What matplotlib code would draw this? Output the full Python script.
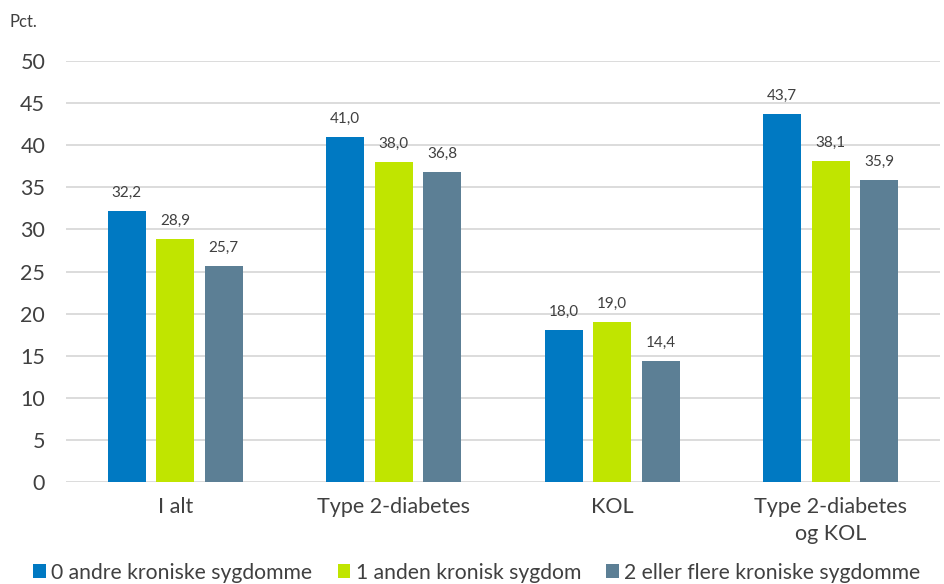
import matplotlib.pyplot as plt
import numpy as np

categories = ['I alt', 'Type 2-diabetes', 'KOL', 'Type 2-diabetes\nog KOL']
series_names = ['0 andre kroniske sygdomme', '1 anden kronisk sygdom',
                '2 eller flere kroniske sygdomme']
zero_other = [32.2, 41.0, 18.0, 43.7]
one_other = [28.9, 38.0, 19.0, 38.1]
two_plus = [25.7, 36.8, 14.4, 35.9]
colors = ['#0079C2', '#C0E500', '#5C7F95']

plt.rcParams['font.family'] = ['Lato', 'DejaVu Sans']
text_color = '#404040'

fig = plt.figure(figsize=(9.45, 5.84), dpi=100)
ax = fig.add_axes([66 / 945, 1 - 482 / 584, 874 / 945, 421 / 584])

x = np.arange(len(categories))
width = 0.175
step = 0.222
for i, (vals, name, col) in enumerate(zip([zero_other, one_other, two_plus],
                                           series_names, colors)):
    bars = ax.bar(x + (i - 1) * step, vals, width, color=col, label=name, zorder=3)
    ax.bar_label(bars, labels=[f'{v:.1f}'.replace('.', ',') for v in vals],
                 padding=8, fontsize=11, color=text_color)

ax.set_xlim(-0.5, 3.5)
ax.set_ylim(0, 50)
ax.set_yticks(range(0, 51, 5))
ax.set_xticks(x)
ax.set_xticklabels(categories, linespacing=1.45)
ax.yaxis.grid(True, color='#D9D9D9', linewidth=1.3, zorder=0)
ax.set_axisbelow(True)
for s in ax.spines.values():
    s.set_visible(False)
ax.tick_params(axis='both', length=0, labelsize=15.5, labelcolor=text_color)
ax.tick_params(axis='y', pad=15)
ax.tick_params(axis='x', pad=11)

fig.text(10 / 945, 1 - 22 / 584, 'Pct.', fontsize=12, color=text_color, va='center')

fig.legend(loc='lower left', bbox_to_anchor=(0.015, -0.03), ncol=3, frameon=False,
           fontsize=15.2, handlelength=0.6, handleheight=0.6, handletextpad=0.25,
           columnspacing=1.2, labelcolor=text_color)

fig.savefig('out.png', dpi=100)
